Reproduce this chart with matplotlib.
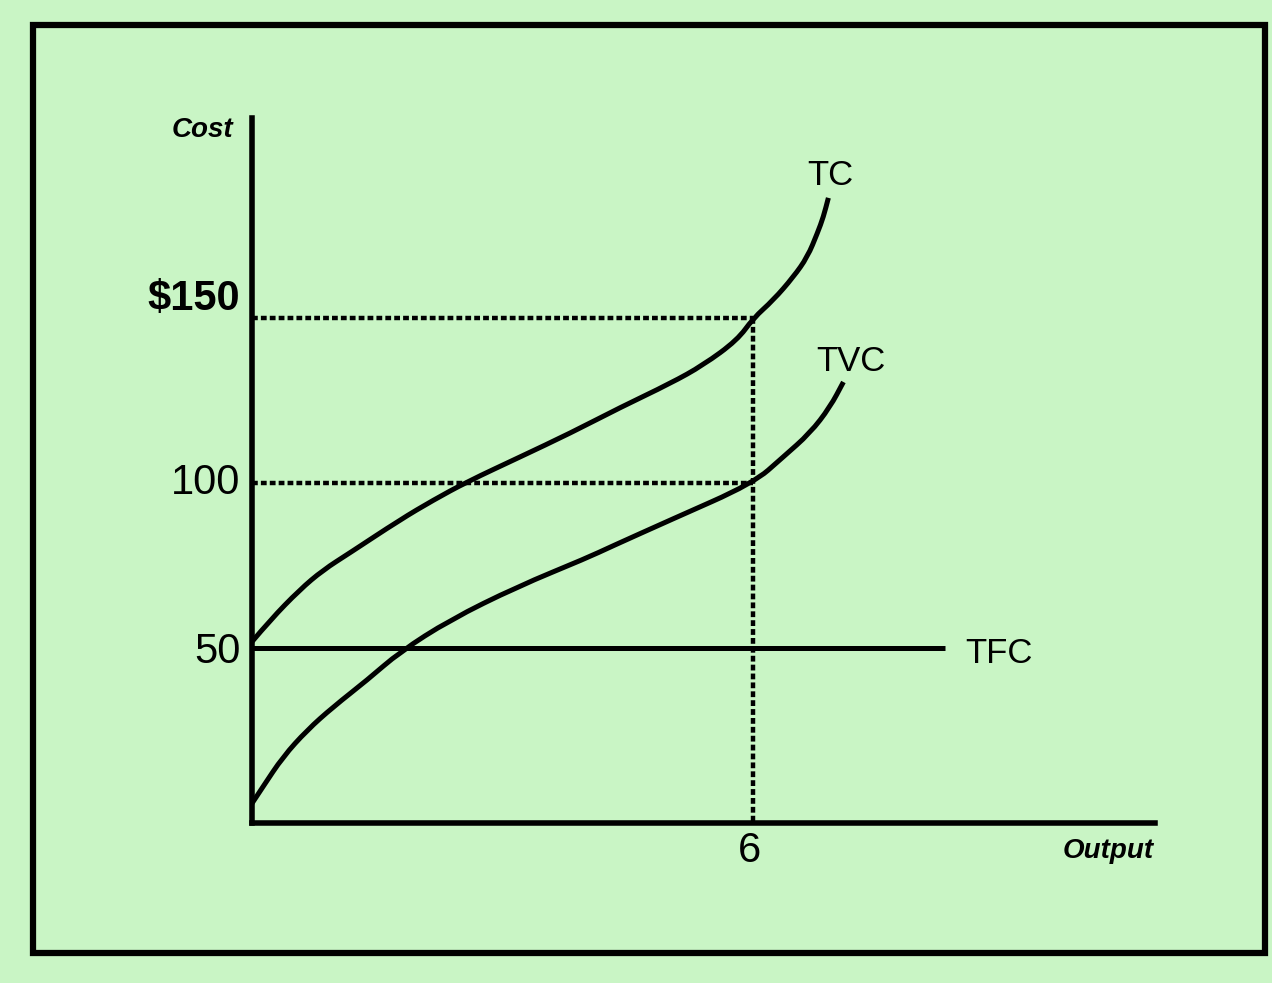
import matplotlib.pyplot as plt
from matplotlib.patches import Rectangle, PathPatch
from matplotlib.path import Path

# -----------------------------
# DATA
# -----------------------------
output_tc = [0, 0.22, 0.57, 0.85, 1.17, 1.77, 2.17, 2.57, 3.21, 3.81, 4.41, 5.01, 5.40, 5.81, 6.0,
             6.24, 6.48, 6.65, 6.77, 6.84, 6.90]
cost_tc = [52, 58.6, 67.7, 73.7, 78.9, 88.9, 94.9, 100.4, 108, 115.2, 123, 130.3, 135.8, 143.4, 150,
           155.5, 162.5, 168.6, 175.9, 180.7, 186.5]

output_tvc = [0, 0.13, 0.37, 0.66, 0.97, 1.38, 1.77, 2.37, 3.17, 4.01, 4.29, 5.01, 6.0, 6.36, 6.68, 6.92, 7.08]
cost_tvc = [3, 8, 17.1, 25.2, 32.2, 40.4, 48.9, 58.6, 68.6, 77.4, 80.7, 88.9, 100, 108, 115.2, 123.1, 130.7]

tfc_value = 50
tfc_end = 8.3

q_mark = 6
cost_marks = [150, 100]
y_labels = ["$150", "100", "50"]
y_label_values = [156, 100, 49]

bg = "#c9f5c5"
FONT = "Liberation Sans"


def smooth_curve(ax, xs, ys, **kw):
    # quadratic bezier through midpoints so the read points give a smooth stroke
    verts = [(xs[0], ys[0])]
    codes = [Path.MOVETO]
    for i in range(1, len(xs) - 1):
        verts.append((xs[i], ys[i]))
        verts.append(((xs[i] + xs[i + 1]) / 2, (ys[i] + ys[i + 1]) / 2))
        codes += [Path.CURVE3, Path.CURVE3]
    verts.append((xs[-1], ys[-1]))
    codes.append(Path.LINETO)
    ax.add_patch(PathPatch(Path(verts, codes), fill=False, **kw))


fig = plt.figure(figsize=(12.72, 9.83), dpi=100, facecolor=bg)
ax = fig.add_axes([252 / 1272, 160 / 983, 903 / 1272, 705 / 983])
ax.set_facecolor("none")
ax.set_xlim(0, 10.81)
ax.set_ylim(-2.94, 210.7)

for s in ["top", "right"]:
    ax.spines[s].set_visible(False)
for s in ["left", "bottom"]:
    ax.spines[s].set_linewidth(4)
    ax.spines[s].set_color("black")
ax.set_xticks([])
ax.set_yticks([])

# curves
smooth_curve(ax, output_tc, cost_tc, edgecolor="black", lw=3.6, capstyle="butt")
smooth_curve(ax, output_tvc, cost_tvc, edgecolor="black", lw=3.6, capstyle="butt")
ax.plot([0, tfc_end], [tfc_value, tfc_value], color="black", lw=3.6, solid_capstyle="butt")

# dotted guides
dot = dict(color="black", lw=3.2, linestyle=(0, (1.3, 0.7)), dash_capstyle="butt")
for c in cost_marks:
    ax.plot([0, q_mark], [c, c], **dot)
ax.plot([q_mark, q_mark], [max(cost_marks), -2.94], **dot)

# labels
for lab, v in zip(y_labels, y_label_values):
    ax.text(-0.14, v, lab, ha="right", va="center", fontsize=30, family=FONT,
            fontweight="bold" if lab.startswith("$") else "normal", clip_on=False)

ax.text(q_mark - 0.04, -11.5, "6", ha="center", va="center", fontsize=30,
        family=FONT, clip_on=False)
ax.text(-0.59, 207, "Cost", ha="center", va="center", fontsize=20, family=FONT,
        fontweight="bold", fontstyle="italic", clip_on=False)
ax.text(10.25, -11.5, "Output", ha="center", va="center", fontsize=20, family=FONT,
        fontweight="bold", fontstyle="italic", clip_on=False)

ax.text(6.92, 193.4, "TC", ha="center", va="center", fontsize=25, family=FONT, clip_on=False)
ax.text(7.17, 136.8, "TVC", ha="center", va="center", fontsize=25, family=FONT, clip_on=False)
ax.text(8.54, 48.3, "TFC", ha="left", va="center", fontsize=25, family=FONT, clip_on=False)

# outer frame
fig.patches.append(Rectangle((33 / 1272, 1 - 953 / 983), 1232 / 1272, 928 / 983,
                             transform=fig.transFigure, fill=False, lw=4.5, edgecolor="black"))

fig.savefig("out.png", dpi=100, facecolor=bg)
